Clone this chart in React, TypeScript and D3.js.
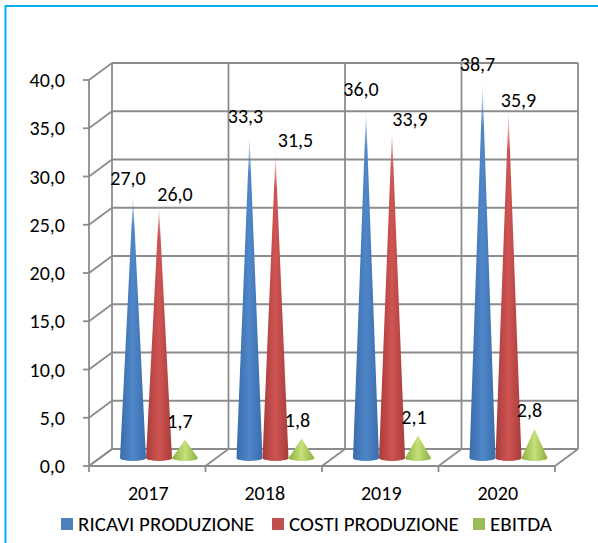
import React from "react";
import * as d3 from "d3";

const categories = ["2017", "2018", "2019", "2020"];
const seriesNames = ["RICAVI PRODUZIONE", "COSTI PRODUZIONE", "EBITDA"];
const ricavi = [27.0, 33.3, 36.0, 38.7];
const costi = [26.0, 31.5, 33.9, 35.9];
const ebitda = [1.7, 1.8, 2.1, 2.8];
const yTicks = [0, 5, 10, 15, 20, 25, 30, 35, 40];

const W = 598, H = 543;
const depthX = 23, depthY = -17;
const frontL = 89, frontR = 555;
const yFront = d3.scaleLinear().domain([0, 40]).range([466, 80]);
const yCone = d3.scaleLinear().domain([0, 40]).range([458, 74]);
const xCat = d3.scaleBand<string>().domain(categories).range([frontL, frontR]);
const fmt = (v: number) => v.toFixed(1).replace(".", ",");
const FONT = "Carlito, Calibri, Lato, 'Open Sans', sans-serif";
const GRID = "#8c8c8c";

const palettes = [
  { id: "blue", edge: "#3a6cab", mid: "#4f87c9", tip: "#4f81bd" },
  { id: "red", edge: "#a83c3a", mid: "#cf5553", tip: "#c0504d" },
  { id: "green", edge: "#8bb03f", mid: "#c6e07a", tip: "#9bbb59" },
];
const legendColors = ["#4f81bd", "#c0504d", "#9bbb59"];
const legendX = [61, 272, 473];
const values = [ricavi, costi, ebitda];
// label offset from each cone's apex, series by category
const labelNudge = [
  [[-5, -21], [-4, -22], [-5, -23], [-5, -22]],
  [[16, -14], [20, -16], [18, -14], [10, -13]],
  [[-5, -21], [-4, -21], [-4, -21], [-5, -21]],
];
const coneStep = 26, coneFirst = 44, halfW = 13, ry = 3;

export default function App() {
  return (
    <svg width={W} height={H} style={{ position: "absolute", left: 0, top: 0, background: "#fff" }} fontFamily={FONT}>
      <defs>
        {palettes.map(p => (
          <linearGradient key={p.id} id={p.id} x1="0" x2="1" y1="0" y2="0">
            <stop offset="0" stopColor={p.edge} />
            <stop offset="0.5" stopColor={p.mid} />
            <stop offset="1" stopColor={p.edge} />
          </linearGradient>
        ))}
        <linearGradient id="fade" x1="0" x2="0" y1="0" y2="1">
          <stop offset="0" stopColor="#fff" stopOpacity={0.15} />
          <stop offset="0.1" stopColor="#fff" stopOpacity={1} />
          <stop offset="1" stopColor="#fff" stopOpacity={1} />
        </linearGradient>
        <mask id="tipFade" maskContentUnits="objectBoundingBox" x="-0.1" y="-0.1" width="1.2" height="1.2">
          <rect x="-0.1" y="0" width="1.2" height="1.1" fill="url(#fade)" />
        </mask>
      </defs>
      <path d="M5.5 543V6H598" fill="none" stroke="#00b0f0" strokeWidth={2} />
      <g stroke={GRID} strokeWidth={1.8} fill="none">
        {yTicks.map(t => (
          <g key={t}>
            <line x1={frontL + depthX} x2={frontR + depthX} y1={yFront(t) + depthY} y2={yFront(t) + depthY} />
            <line x1={frontL} x2={frontL + depthX} y1={yFront(t)} y2={yFront(t) + depthY} />
            <line x1={frontL - 6} x2={frontL} y1={yFront(t)} y2={yFront(t)} />
          </g>
        ))}
        {[...categories.map(c => xCat(c)!), frontR].map((x, i) => (
          <g key={i}>
            <line x1={x + depthX} x2={x + depthX} y1={yFront(40) + depthY} y2={yFront(0) + depthY} />
            <line x1={x} x2={x + depthX} y1={yFront(0)} y2={yFront(0) + depthY} />
            <line x1={x} x2={x} y1={yFront(0)} y2={yFront(0) + 6} />
          </g>
        ))}
        <line x1={frontL} x2={frontL} y1={yFront(40)} y2={yFront(0)} />
        <line x1={frontL} x2={frontR} y1={yFront(0)} y2={yFront(0)} />
      </g>
      {categories.map((c, ci) =>
        values.map((vals, si) => {
          const cx = xCat(c)! + coneFirst + si * coneStep;
          const apex = yCone(vals[ci]) - 2;
          const base = yCone(0);
          return (
            <path
              key={c + si}
              d={`M${cx} ${apex}L${cx + halfW} ${base}A${halfW} ${ry} 0 0 1 ${cx - halfW} ${base}Z`}
              fill={`url(#${palettes[si].id})`}
              mask={si < 2 ? "url(#tipFade)" : undefined}
            />
          );
        })
      )}
      <g fontSize={20} fill="#000">
        {yTicks.map(t => (
          <text key={t} x={65} y={yFront(t)} textAnchor="end" dominantBaseline="central">{fmt(t)}</text>
        ))}
        {categories.map(c => (
          <text key={c} x={xCat(c)! + xCat.bandwidth() / 2 + 1} y={493} textAnchor="middle" dominantBaseline="central">{c}</text>
        ))}
        {categories.map((c, ci) =>
          values.map((vals, si) => {
            const cx = xCat(c)! + coneFirst + si * coneStep;
            const [dx, dy] = labelNudge[si][ci];
            return (
              <text key={c + si} x={cx + dx} y={yCone(vals[ci]) + dy} textAnchor="middle" dominantBaseline="central">
                {fmt(vals[ci])}
              </text>
            );
          })
        )}
      </g>
      <g fontSize={21} fill="#000">
        {seriesNames.map((n, i) => (
          <g key={n}>
            <rect x={legendX[i]} y={518} width={12} height={12} fill={legendColors[i]} />
            <text x={legendX[i] + 17} y={524} dominantBaseline="central">{n}</text>
          </g>
        ))}
      </g>
    </svg>
  );
}
